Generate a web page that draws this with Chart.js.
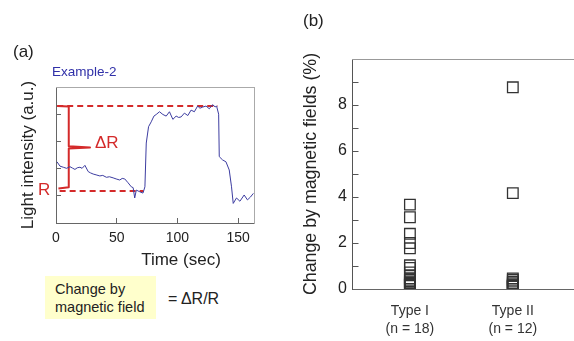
<!DOCTYPE html>
<html>
<head>
<meta charset="utf-8">
<script src="https://cdn.jsdelivr.net/npm/chart.js@4/dist/chart.umd.min.js"></script>
<style>
  html, body { margin:0; padding:0; width:574px; height:341px; overflow:hidden; background:#fff; }
  body { position:relative; font-family:"Liberation Sans", Arial, sans-serif; color:#222; }
  .t { position:absolute; white-space:nowrap; }
  canvas { position:absolute; }
</style>
</head>
<body>
<script>
// ---------- data ----------
const timeSec = [0.8,3.3,6,8.7,11.5,13.5,15.6,17.5,19.7,21.5,23.8,26.5,28.5,30.6,33,36.1,38.5,41.5,44,47,49.5,52.5,54.5,56.6,59.3,62,63.5,64.8,66.1,68.9,71.6,73.2,74.3,76.2,78.4,80.6,82.5,85.2,88,90.7,93.4,96.2,98.9,101,103,105.7,108.5,111.2,113.9,116.6,118.5,120.7,123.5,126.2,128.9,131,132.2,133.9,134.4,137.1,139.9,142.6,144.5,145.9,148.6,151.4,154.9,157.6,160,162.5];
const intensity = [2.25,2.09,2.05,2.01,2.07,2.02,1.97,2.03,2.05,2.01,2.12,1.89,1.84,1.80,1.77,1.73,1.75,1.68,1.70,1.66,1.62,1.58,1.64,1.62,1.48,1.33,1.30,0.92,1.21,1.15,1.10,1.33,2.94,3.54,3.72,3.93,3.99,4.09,3.99,3.93,4.09,3.81,3.93,3.88,3.90,4.04,3.95,4.15,4.09,4.30,4.22,4.26,4.30,4.20,4.35,4.27,4.30,4.00,2.44,2.32,2.25,1.95,1.33,0.72,0.92,0.80,1.03,0.85,0.95,1.09];
const levelHigh = 4.3;          // top dashed level (R + ΔR)
const levelLow = 1.18;          // bottom dashed level (R)
const highSpan = [1, 133];      // time span of the top dashed line
const lowSpan = [3, 72];        // time span of the bottom dashed line
const bracketT = [1, 10.5, 10.5, 28, 10.5, 10.5, 2];
const bracketV = [4.3, 4.28, 2.82, 2.78, 2.74, 1.31, 1.27];
const timeTicks = [0, 50, 100, 150];

const typeCategories = [["Type I", "(n = 18)"], ["Type II", "(n = 12)"]];
const typeIValues = [3.67,3.12,2.40,2.00,1.77,1.03,0.92,0.72,0.60,0.46,0.40,0.33,0.28,0.25,0.22,0.20,0.18,0.18];
const typeIIValues = [8.77,4.17,0.46,0.40,0.32,0.25,0.20,0.17,0.14,0.12,0.11,0.11];
const changeTicks = [0, 2, 4, 6, 8];

// ---------- page text ----------
function addText(txt, left, top, css) {
  const d = document.createElement('div');
  d.className = 't';
  d.innerHTML = txt;
  d.style.left = left + 'px';
  d.style.top = top + 'px';
  Object.assign(d.style, css || {});
  document.body.appendChild(d);
  return d;
}
const FONT = '"Liberation Sans", Arial, sans-serif';
Chart.defaults.font.family = FONT;
Chart.defaults.color = '#222';

function makeCanvas(left, top, w, h) {
  const c = document.createElement('canvas');
  c.width = w; c.height = h;
  c.style.left = left + 'px'; c.style.top = top + 'px';
  c.style.width = w + 'px'; c.style.height = h + 'px';
  document.body.appendChild(c);
  return c;
}

// ---------- panel (a) ----------
const ca = makeCanvas(0, 0, 280, 276);
const pts = (xs, ys) => xs.map((x, i) => ({x, y: ys[i]}));
const RED = '#d42a2a';
new Chart(ca, {
  type: 'scatter',
  data: {
    datasets: [
      { data: pts(timeSec, intensity), showLine: true, borderColor: '#3c3ca0', borderWidth: 1, pointRadius: 0, tension: 0 },
      { data: pts(highSpan, [levelHigh, levelHigh]), showLine: true, borderColor: RED, borderWidth: 2, borderDash: [6, 4], pointRadius: 0 },
      { data: pts(lowSpan, [levelLow, levelLow]), showLine: true, borderColor: RED, borderWidth: 2, borderDash: [6, 4], pointRadius: 0 },
      { data: pts(bracketT, bracketV), showLine: true, borderColor: RED, borderWidth: 2, pointRadius: 0, borderJoinStyle: 'round' }
    ]
  },
  options: {
    responsive: false, animation: false, devicePixelRatio: 1,
    layout: { padding: { left: 0, top: 87, right: 26, bottom: 3 } },
    plugins: { legend: { display: false }, tooltip: { enabled: false } },
    scales: {
      x: {
        type: 'linear', position: 'bottom', min: 0, max: 163,
        afterBuildTicks: s => { s.ticks = timeTicks.map(v => ({value: v})); },
        ticks: { font: { size: 14 }, color: '#222', padding: 11.6, maxRotation: 0 },
        grid: { drawOnChartArea: false, tickLength: -5, color: '#666' },
        border: { color: '#666', width: 1 },
        title: { display: true, text: '           Time (sec)', font: { size: 17 }, color: '#222', padding: { top: 0, bottom: 2.8 } },
        afterFit: s => { s.height = 50; }
      },
      y: {
        type: 'linear', position: 'left', min: 0, max: 5,
        ticks: { display: false, stepSize: 1 },
        grid: { drawOnChartArea: false, tickLength: -5, color: '#666' },
        border: { color: '#666', width: 1 },
        title: { display: true, text: 'Light intensity (a.u.)', font: { size: 17 }, color: '#222', padding: { top: 17.8, bottom: 0 } },
        afterFit: s => { s.width = 56; }
      },
      x2: {
        type: 'linear', position: 'top', min: 0, max: 1,
        ticks: { display: false }, grid: { display: false },
        border: { color: '#aaa', width: 1 },
        afterFit: s => { s.height = 0; }
      },
      y2: {
        type: 'linear', position: 'right', min: 0, max: 1,
        ticks: { display: false }, grid: { display: false },
        border: { color: '#aaa', width: 1 },
        afterFit: s => { s.width = 0; }
      }
    }
  }
});

// ---------- panel (b) ----------
const cb = makeCanvas(290, 0, 310, 341);
new Chart(cb, {
  type: 'scatter',
  data: {
    datasets: [
      { data: typeIValues.map(v => ({x: 1, y: v})), pointStyle: 'rect', pointRadius: 7.5, borderColor: '#333', borderWidth: 1.3, backgroundColor: 'rgba(0,0,0,0)' },
      { data: typeIIValues.map(v => ({x: 2, y: v})), pointStyle: 'rect', pointRadius: 7.5, borderColor: '#333', borderWidth: 1.3, backgroundColor: 'rgba(0,0,0,0)' }
    ]
  },
  options: {
    responsive: false, animation: false, devicePixelRatio: 1,
    layout: { padding: { left: 0, top: 59, right: 10, bottom: 2 } },
    plugins: { legend: { display: false }, tooltip: { enabled: false } },
    scales: {
      x: {
        type: 'linear', position: 'bottom', min: 0.442, max: 2.75,
        afterBuildTicks: s => { s.ticks = [{value: 1}, {value: 2}]; },
        ticks: { callback: v => typeCategories[Math.round(v) - 1], font: { size: 14, lineHeight: 18 / 14 }, color: '#333', padding: 13, maxRotation: 0, autoSkip: false },
        grid: { display: false, drawTicks: false },
        border: { color: '#666', width: 1 },
        afterFit: s => { s.height = 341 - 2 - 289; }
      },
      y: {
        type: 'linear', position: 'left', min: 0, max: 10,
        ticks: { stepSize: 1, callback: v => changeTicks.includes(v) ? String(v) : '', font: { size: 16 }, color: '#222', padding: 11.5 },
        grid: { drawOnChartArea: false, tickLength: -6, color: '#555' },
        border: { color: '#555', width: 1 },
        title: { display: true, text: 'Change by magnetic fields (%)', font: { size: 17.8 }, color: '#222', padding: { top: 10.3, bottom: 0 } },
        afterFit: s => { s.width = 62.5; }
      },
      x2: {
        type: 'linear', position: 'top', min: 0, max: 1,
        ticks: { display: false }, grid: { display: false },
        border: { color: '#999', width: 1 },
        afterFit: s => { s.height = 0; }
      }
    }
  }
});

// ---------- annotation text ----------
addText('(a)', 13, 42, { fontSize: '17px', lineHeight: '20px' });
addText('(b)', 303, 11, { fontSize: '17px', lineHeight: '20px' });
addText('Example-2', 52, 64, { fontSize: '13.5px', lineHeight: '16px', color: '#3030a8' });
addText('&Delta;R', 95, 133, { fontSize: '17px', lineHeight: '20px', color: RED });
addText('R', 38, 180, { fontSize: '17px', lineHeight: '20px', color: RED });
addText('Change by<br>magnetic field', 45, 276, { width: '101px', height: '39px', paddingLeft: '10px', paddingTop: '4px', background: '#ffffcc', fontSize: '14.5px', lineHeight: '18px', color: '#222' });
addText('= &Delta;R/R', 168, 289, { fontSize: '16px', lineHeight: '20px', color: '#222' });
</script>
</body>
</html>
